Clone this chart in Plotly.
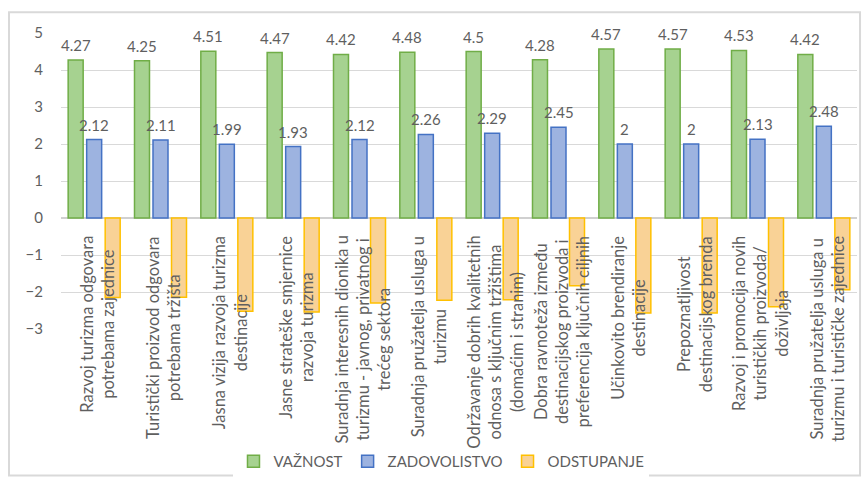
import plotly.graph_objects as go

categories = [
    "Razvoj turizma odgovara<br>potrebama zajednice",
    "Turistički proizvod odgovara<br>potrebama tržišta",
    "Jasna vizija razvoja turizma<br>destinacije",
    "Jasne strateške smjernice<br>razvoja turizma",
    "Suradnja interesnih dionika u<br>turizmu - javnog, privatnog i<br>trećeg sektora",
    "Suradnja pružatelja usluga u<br>turizmu",
    "Održavanje dobrih kvalitetnih<br>odnosa s ključnim tržištima<br>(domaćim i stranim)",
    "Dobra ravnoteža između<br>destinacijskog proizvoda i<br>preferencija ključnih ciljnih",
    "Učinkovito brendiranje<br>destinacije",
    "Prepoznatljivost<br>destinacijskog brenda",
    "Razvoj i promocija novih<br>turističkih proizvoda/<br>doživljaja",
    "Suradnja pružatelja usluga u<br>turizmu i turističke zajednice",
]
vaznost = [4.27, 4.25, 4.51, 4.47, 4.42, 4.48, 4.5, 4.28, 4.57, 4.57, 4.53, 4.42]
zadovoljstvo = [2.12, 2.11, 1.99, 1.93, 2.12, 2.26, 2.29, 2.45, 2.0, 2.0, 2.13, 2.48]
odstupanje = [-2.15, -2.14, -2.52, -2.54, -2.30, -2.22, -2.21, -1.83, -2.57, -2.57, -2.40, -1.94]
series_names = ["VAŽNOST", "ZADOVOLISTVO", "ODSTUPANJE"]
y_ticks = [-3, -2, -1, 0, 1, 2, 3, 4, 5]

FONT = "Lato"
GRAY = "#5f5f5f"
xs = list(range(len(categories)))

fig = go.Figure()
fig.add_trace(go.Bar(x=xs, y=vaznost, name=series_names[0],
                     marker=dict(color="#A6D290", line=dict(color="#70AD47", width=1.5))))
fig.add_trace(go.Bar(x=xs, y=zadovoljstvo, name=series_names[1],
                     marker=dict(color="#9DB3E0", line=dict(color="#4472C4", width=1.5))))
fig.add_trace(go.Bar(x=xs, y=odstupanje, name=series_names[2],
                     marker=dict(color="#F9D296", line=dict(color="#FFC000", width=1.5))))

annotations = []
for i in xs:
    annotations.append(dict(x=i, y=vaznost[i], text=f"{vaznost[i]:g}", showarrow=False,
                            xanchor="center", yanchor="bottom", xshift=-18.5, yshift=4,
                            font=dict(family=FONT, size=15, color=GRAY)))
    annotations.append(dict(x=i, y=zadovoljstvo[i], text=f"{zadovoljstvo[i]:g}", showarrow=False,
                            xanchor="center", yanchor="bottom", xshift=0, yshift=4,
                            font=dict(family=FONT, size=15, color=GRAY)))
    annotations.append(dict(x=i, y=0, text=categories[i], showarrow=False, textangle=-90,
                            xanchor="center", yanchor="top", xshift=3, yshift=-16,
                            align="center",
                            font=dict(family=FONT, size=16.5, color=GRAY)))

fig.update_layout(
    width=867, height=488,
    margin=dict(l=61, r=10, t=33, b=156),
    paper_bgcolor="white", plot_bgcolor="white",
    barmode="group", bargap=0.163, bargroupgap=0.19,
    font=dict(family=FONT, color=GRAY, size=15),
    showlegend=True,
    legend=dict(orientation="h", x=0.478, xanchor="center", y=-0.448, yanchor="middle",
                font=dict(family=FONT, size=15, color=GRAY), itemwidth=30,
                traceorder="normal"),
    xaxis=dict(range=[-0.5, len(categories) - 0.5], showticklabels=False, showgrid=False,
               zeroline=False, showline=False, ticks=""),
    yaxis=dict(range=[-3, 5], tickvals=y_ticks, showgrid=True, gridcolor="#D9D9D9",
               gridwidth=1, zeroline=True, zerolinecolor="#D0D0D0", zerolinewidth=1.5,
               showline=False, ticks="", ticklabelstandoff=17,
               tickfont=dict(family=FONT, size=15, color=GRAY)),
    annotations=annotations,
    shapes=[dict(type="rect", xref="paper", yref="paper", x0=-0.0653, x1=1.0038,
                 y0=-0.495, y1=1.0702, line=dict(color="#D9D9D9", width=2),
                 fillcolor="rgba(0,0,0,0)", layer="below")],
)

fig.write_html("out.html")
